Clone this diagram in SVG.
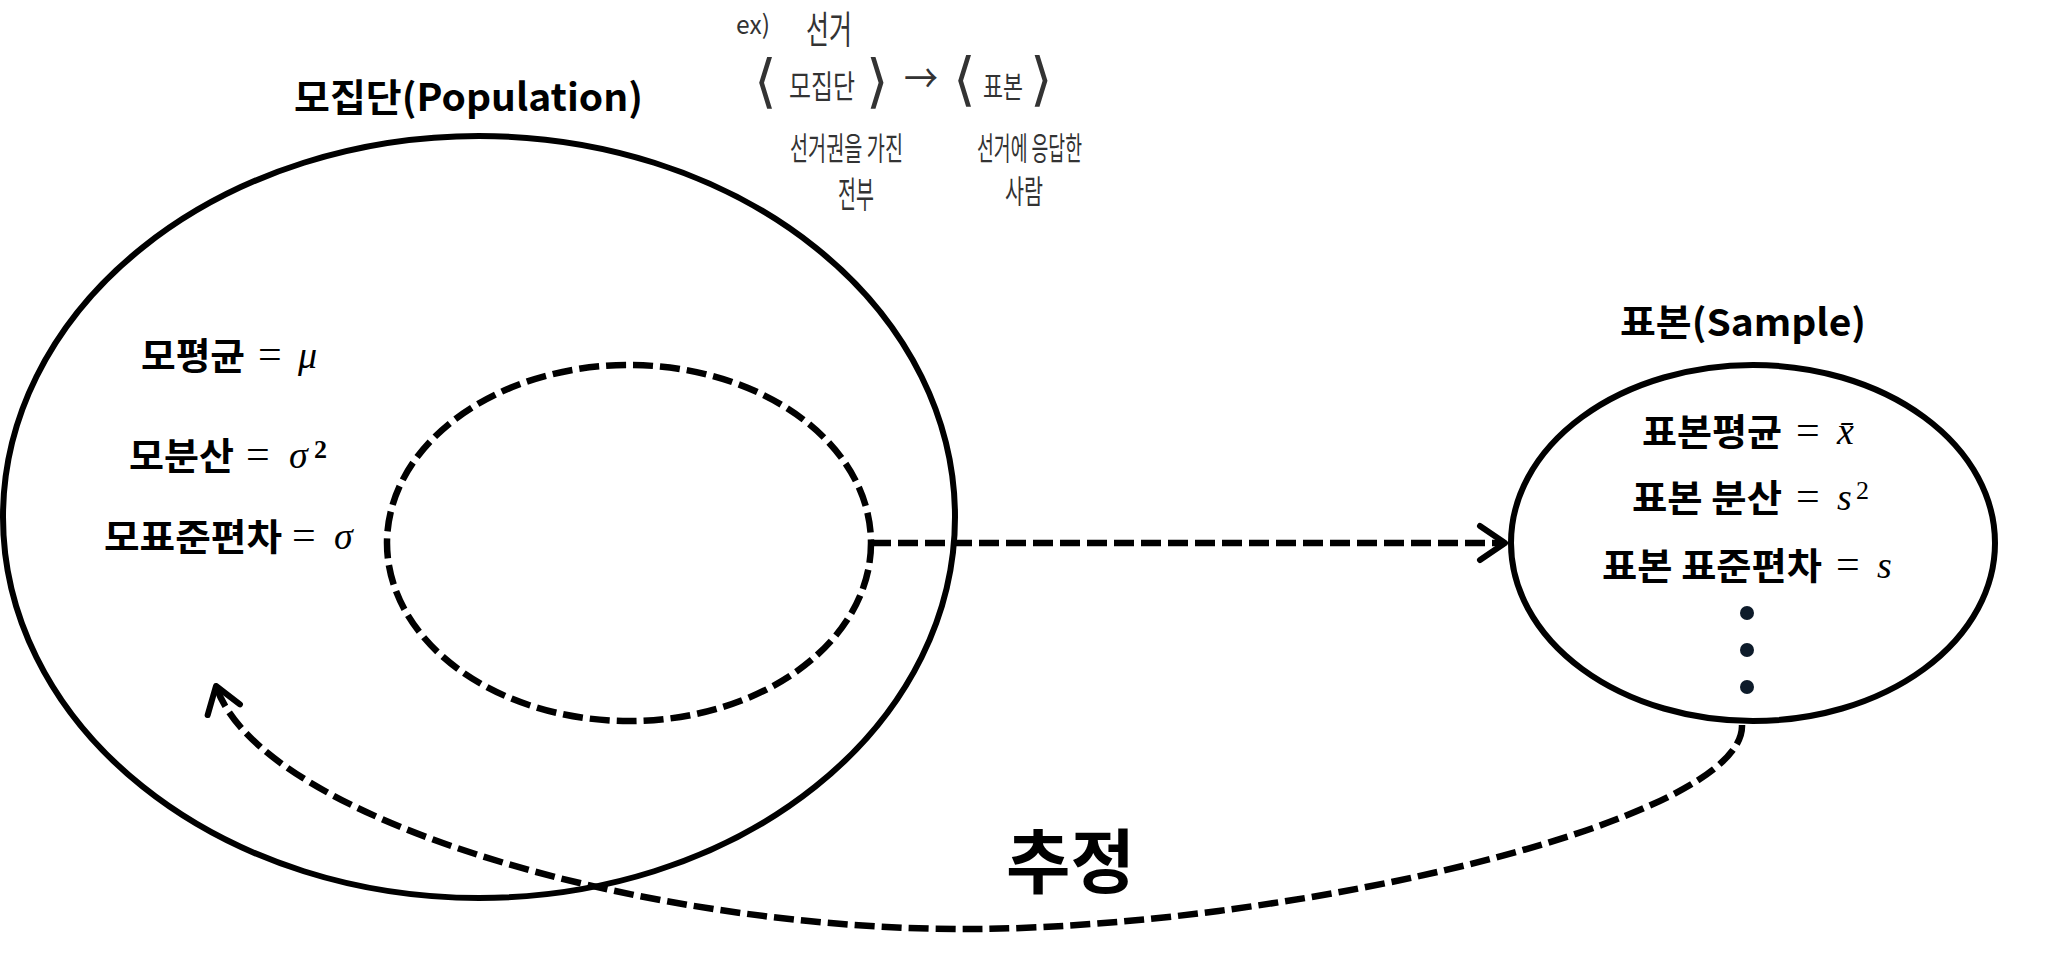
<svg xmlns="http://www.w3.org/2000/svg" width="2051" height="980" viewBox="0 0 2051 980">
<style>
.solid{fill:none;stroke:#000;stroke-width:6}
.dash{fill:none;stroke:#000;stroke-width:6.5;stroke-dasharray:20 7}
.ko{font-family:"Noto Sans CJK KR","Noto Sans",sans-serif;font-weight:700;fill:#000}
.math{font-family:"Liberation Serif","DejaVu Serif",serif;fill:#000}
.it{font-style:italic}
.hand{font-family:"Noto Sans CJK KR",sans-serif;font-weight:400;fill:#333}
.br{font-family:"DejaVu Sans",sans-serif;font-weight:400;fill:#333}
</style>
<defs>
<marker id="open" markerUnits="userSpaceOnUse" markerWidth="40" markerHeight="48" viewBox="-32 -24 40 48" refX="0" refY="0" orient="auto">
<path d="M -25 -17 L 0 0 L -25 17" fill="none" stroke="#000" stroke-width="6" stroke-linecap="round" stroke-linejoin="round"/>
</marker>
</defs>
<rect width="2051" height="980" fill="#fff"/>

<g id="note">
<text class="hand" x="736" y="34" font-size="26" textLength="34" lengthAdjust="spacingAndGlyphs">ex)</text>
<text class="hand" x="806" y="43" font-size="38" textLength="46" lengthAdjust="spacingAndGlyphs">선거</text>
<text class="br" x="754" y="101" font-size="58">⟨</text>
<text class="hand" x="789" y="98" font-size="32" textLength="66" lengthAdjust="spacingAndGlyphs">모집단</text>
<text class="br" x="866" y="101" font-size="58">⟩</text>
<text class="hand" x="904" y="93" font-size="40" textLength="34" lengthAdjust="spacingAndGlyphs">→</text>
<text class="br" x="953" y="99" font-size="58">⟨</text>
<text class="hand" x="983" y="97" font-size="30" textLength="40" lengthAdjust="spacingAndGlyphs">표본</text>
<text class="br" x="1030" y="99" font-size="58">⟩</text>
<text class="hand" x="790" y="160" font-size="32" textLength="113" lengthAdjust="spacingAndGlyphs">선거권을 가진</text>
<text class="hand" x="838" y="208" font-size="36" textLength="36" lengthAdjust="spacingAndGlyphs">전부</text>
<text class="hand" x="977" y="160" font-size="32" textLength="105" lengthAdjust="spacingAndGlyphs">선거에 응답한</text>
<text class="hand" x="1005" y="203" font-size="32" textLength="38" lengthAdjust="spacingAndGlyphs">사람</text>
</g>

<g id="population">
<ellipse class="solid" cx="479" cy="517" rx="476" ry="381"/>
<text class="ko" x="294" y="111" font-size="38" textLength="349" lengthAdjust="spacingAndGlyphs">모집단(Population)</text>
<text class="ko" x="141" y="370" font-size="37" textLength="104" lengthAdjust="spacingAndGlyphs">모평균</text>
<text class="math" x="258" y="368" font-size="42">=</text>
<text class="math it" x="298" y="368" font-size="38">μ</text>
<text class="ko" x="129" y="470" font-size="37" textLength="105" lengthAdjust="spacingAndGlyphs">모분산</text>
<text class="math" x="246" y="468" font-size="42">=</text>
<text class="math it" x="289" y="468" font-size="38">σ</text>
<text class="math" x="314" y="458" font-size="26" font-weight="700">2</text>
<text class="ko" x="104" y="551" font-size="37" textLength="178" lengthAdjust="spacingAndGlyphs">모표준편차</text>
<text class="math" x="292" y="549" font-size="42">=</text>
<text class="math it" x="334" y="549" font-size="38">σ</text>
</g>

<g id="population-subset">
<ellipse class="dash" cx="629" cy="543" rx="242" ry="178"/>
</g>

<g id="sample">
<ellipse class="solid" cx="1753" cy="543" rx="242" ry="178"/>
<text class="ko" x="1620" y="336" font-size="37" textLength="246" lengthAdjust="spacingAndGlyphs">표본(Sample)</text>
<text class="ko" x="1642" y="446" font-size="37" textLength="140" lengthAdjust="spacingAndGlyphs">표본평균</text>
<text class="math" x="1796" y="444" font-size="42">=</text>
<text class="math it" x="1837" y="444" font-size="38">x̄</text>
<text class="ko" x="1632" y="512" font-size="37" textLength="150" lengthAdjust="spacingAndGlyphs">표본 분산</text>
<text class="math" x="1796" y="510" font-size="42">=</text>
<text class="math it" x="1837" y="510" font-size="38">s</text>
<text class="math" x="1856" y="499" font-size="26">2</text>
<text class="ko" x="1602" y="580" font-size="37" textLength="220" lengthAdjust="spacingAndGlyphs">표본 표준편차</text>
<text class="math" x="1836" y="578" font-size="42">=</text>
<text class="math it" x="1877" y="578" font-size="38">s</text>
<circle cx="1747" cy="613" r="7" fill="#0d1b2a"/>
<circle cx="1747" cy="650" r="7" fill="#0d1b2a"/>
<circle cx="1747" cy="687" r="7" fill="#0d1b2a"/>
</g>

<g id="connectors">
<path class="dash" d="M 871 543 L 1505 543" marker-end="url(#open)"/>
<path class="dash" d="M 1742 725 C 1745 820 1300 925 980 929 C 650 932 260 820 216 686" marker-end="url(#open)"/>
</g>

<g id="estimate-label">
<text class="ko" x="1006" y="888" font-size="70">추정</text>
</g>
</svg>
